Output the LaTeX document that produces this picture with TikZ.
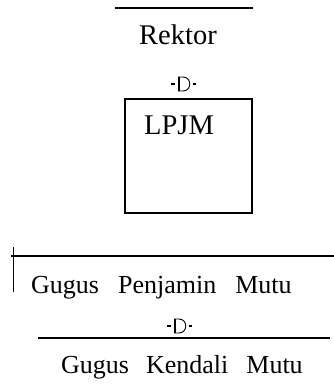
\documentclass[tikz,border=0pt]{standalone}
\usepackage{fontspec}
\setmainfont{Liberation Serif}
\begin{document}
\begin{tikzpicture}[x=1pt,y=-1pt,
  thick line/.style={line width=2pt},
  thin line/.style={line width=1pt},
  lbl/.style={inner sep=0pt,anchor=base west,font=\fontsize{26}{30}\selectfont},
  biglbl/.style={lbl,font=\fontsize{28.5}{32}\selectfont},
  dsym/.pic={
    \draw[line width=1.1pt] (-13,0) -- (-9.5,0);
    \draw[line width=1.1pt] (8.5,0) -- (12,0);
    \draw[line width=1.3pt] (-5,-7) -- (-5,7);
    \draw[line width=0.9pt] (-5.8,-7) -- (-1,-7) .. controls (8,-7) and (8,7) .. (-1,7) -- (-5.8,7);
  }]
\useasboundingbox (0,0) rectangle (334,385);
% top
\coordinate (t1) at (115,8);
\coordinate (t2) at (253,8);
\draw[thick line] (t1) -- (t2);
\node[biglbl] (rektor) at (139,45) {Rektor};
\pic at (184,84) {dsym};
% box
\coordinate (b1) at (125,99);
\coordinate (b2) at (252,213);
\draw[thick line] (b1) rectangle (b2);
\node[biglbl] (lpjm) at (144,135) {LPJM};
% gugus penjamin
\coordinate (g1) at (11,256);
\coordinate (g2) at (334,256);
\coordinate (v1) at (13,247);
\coordinate (v2) at (13,292);
\draw[thick line] (g1) -- (g2);
\draw[thin line] (v1) -- (v2);
\node[lbl] (gpm) at (31,293) {Gugus\hspace{19pt}Penjamin\hspace{19pt}Mutu};
\pic at (180,326) {dsym};
\coordinate (k1) at (38,338);
\coordinate (k2) at (330,338);
\draw[thick line] (k1) -- (k2);
\node[lbl] (gkm) at (61,373) {Gugus\hspace{17pt}Kendali\hspace{18pt}Mutu};
\end{tikzpicture}
\end{document}
